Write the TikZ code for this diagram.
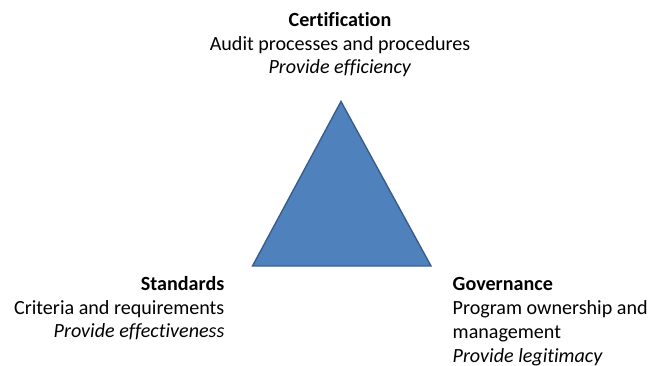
\documentclass[tikz,border=0pt]{standalone}
\usepackage{fontspec}
\setmainfont{Carlito}[Ligatures=NoCommon]
\usepackage{tikz}
\definecolor{trifill}{HTML}{4F81BD}
\definecolor{tridraw}{HTML}{385D8A}

\begin{document}
\begin{tikzpicture}[x=1pt,y=1pt]

\tikzset{
label/.style={inner sep=0pt,font=\fontsize{20.1}{23.8}\selectfont},
corner/.style={draw=tridraw,line width=1.4pt,line join=miter}
}

\useasboundingbox (0,0) rectangle (659,366);

\coordinate (top) at (341,264.5);
\coordinate (left) at (252.5,100);
\coordinate (right) at (431,100);

\filldraw[corner,fill=trifill] (top)--(left)--(right)--cycle;

\node[label,align=center,anchor=north] (certification) at (340,354)
  {\textbf{Certification}\\Audit processes and procedures\\\textit{Provide efficiency}};
\node[label,align=right,anchor=north east] (standards) at (224.5,90)
  {\textbf{Standards}\\Criteria and requirements\\\textit{Provide effectiveness}};
\node[label,align=left,anchor=north west] (governance) at (452.5,88.5)
  {\textbf{Governance}\\Program ownership and\\management\\\textit{Provide legitimacy}};

\end{tikzpicture}
\end{document}
